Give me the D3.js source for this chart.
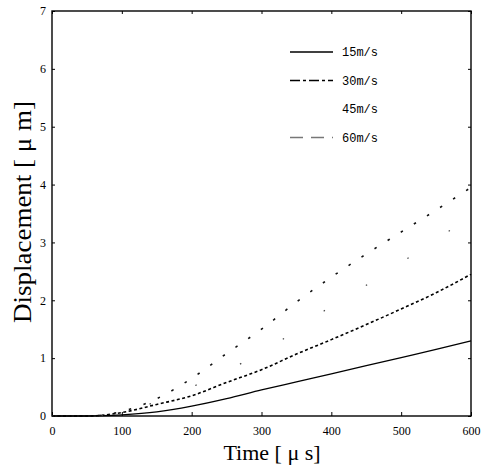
<!DOCTYPE html>
<html>
<head>
<meta charset="utf-8">
<script src="https://cdn.jsdelivr.net/npm/d3@7"></script>
<style>
  body { margin: 0; background: #fff; }
  svg { display: block; }
</style>
</head>
<body>
<div id="chart"></div>
<script>
// data
const times = [0, 50, 100, 150, 200, 250, 300, 350, 400, 450, 500, 550, 600];
const disp15 = [0, 0, 0.02, 0.07, 0.17, 0.3, 0.45, 0.59, 0.73, 0.87, 1.01, 1.15, 1.3];
const disp30 = [0, 0, 0.06, 0.2, 0.35, 0.58, 0.8, 1.07, 1.32, 1.58, 1.85, 2.13, 2.45];
const disp45 = [0, 0, 0.06, 0.25, 0.5, 0.78, 1.1, 1.48, 1.9, 2.26, 2.65, 3.05, 3.45];
const disp60 = [0, 0, 0.08, 0.3, 0.65, 1.08, 1.5, 1.97, 2.4, 2.8, 3.18, 3.56, 3.95];
const seriesNames = ["15m/s", "30m/s", "45m/s", "60m/s"];
const xTicks = [0, 100, 200, 300, 400, 500, 600];
const yTicks = [0, 1, 2, 3, 4, 5, 6, 7];

const width = 491, height = 472;
const margin = {top: 11, right: 20, bottom: 56, left: 52};
const w = width - margin.left - margin.right;
const h = height - margin.top - margin.bottom;

const svg = d3.select("#chart").append("svg")
  .attr("width", width)
  .attr("height", height);

const g = svg.append("g")
  .attr("transform", `translate(${margin.left},${margin.top})`);

const x = d3.scaleLinear().domain([0, 600]).range([0, w]);
const y = d3.scaleLinear().domain([0, 7]).range([h, 0]);

// bottom axis, ticks pointing in
g.append("g")
  .attr("transform", `translate(0,${h})`)
  .call(d3.axisBottom(x).tickValues(xTicks).tickFormat(d3.format("d"))
    .tickSizeInner(-4).tickSizeOuter(0).tickPadding(10))
  .call(a => a.select(".domain").remove())
  .call(a => a.selectAll("text")
    .attr("font-family", "Liberation Serif").attr("font-size", 12).attr("fill", "#000"));

g.append("g")
  .call(d3.axisLeft(y).tickValues(yTicks).tickFormat(d3.format("d"))
    .tickSizeInner(-3).tickSizeOuter(0).tickPadding(6))
  .call(a => a.select(".domain").remove())
  .call(a => a.selectAll("text")
    .attr("font-family", "Liberation Serif").attr("font-size", 12).attr("fill", "#000"));

g.append("g")
  .attr("transform", `translate(${w},0)`)
  .call(d3.axisRight(y).tickValues(yTicks).tickSizeInner(-3).tickSizeOuter(0).tickFormat(""))
  .call(a => a.select(".domain").remove());

g.append("g")
  .call(d3.axisTop(x).tickValues(xTicks).tickSizeInner(-3).tickSizeOuter(0).tickFormat(""))
  .call(a => a.select(".domain").remove());

g.selectAll(".tick line").attr("stroke", "#000");

// frame
g.append("rect")
  .attr("width", w).attr("height", h)
  .attr("fill", "none").attr("stroke", "#000").attr("stroke-width", 1.4);

const series = [
  {name: seriesNames[0], values: disp15, dash: null, width: 1.3, color: "#000"},
  {name: seriesNames[1], values: disp30, dash: "3,2.5", width: 1.6, color: "#000"},
  {name: seriesNames[2], values: disp45, dash: "1.5,48", width: 1.2, color: "#444"},
  {name: seriesNames[3], values: disp60, dash: "2.5,13", width: 1.6, color: "#111"}
];

const line = d3.line()
  .x((d, i) => x(times[i]))
  .y(d => y(d))
  .curve(d3.curveMonotoneX);

g.selectAll(".series")
  .data(series)
  .join("path")
  .attr("class", "series")
  .attr("d", d => line(d.values))
  .attr("fill", "none")
  .attr("stroke", d => d.color)
  .attr("stroke-width", d => d.width)
  .attr("stroke-dasharray", d => d.dash);

// legend
const legendDash = [null, "10,3,3,3", "0,60", "13,8"];
const legendColor = ["#000", "#000", "#fff", "#777"];
const legend = svg.append("g").attr("transform", "translate(290,52)");
const items = legend.selectAll("g")
  .data(seriesNames)
  .join("g")
  .attr("transform", (d, i) => `translate(0,${i * 28.5})`);
items.append("line")
  .attr("x1", 0).attr("x2", 43)
  .attr("stroke", (d, i) => legendColor[i])
  .attr("stroke-width", 1.3)
  .attr("stroke-dasharray", (d, i) => legendDash[i]);
items.append("text")
  .attr("x", 52).attr("y", 4)
  .attr("font-family", "Liberation Mono")
  .attr("font-size", 12)
  .text(d => d);

// axis titles
svg.append("text")
  .attr("x", 272).attr("y", 460)
  .attr("text-anchor", "middle")
  .attr("font-family", "Liberation Serif")
  .attr("font-size", 22)
  .text("Time [ μ s]");

svg.append("text")
  .attr("transform", "translate(31,212) rotate(-90)")
  .attr("text-anchor", "middle")
  .attr("font-family", "Liberation Serif")
  .attr("font-size", 25)
  .attr("textLength", 222)
  .attr("lengthAdjust", "spacingAndGlyphs")
  .text("Displacement [ μ m]");
</script>
</body>
</html>
